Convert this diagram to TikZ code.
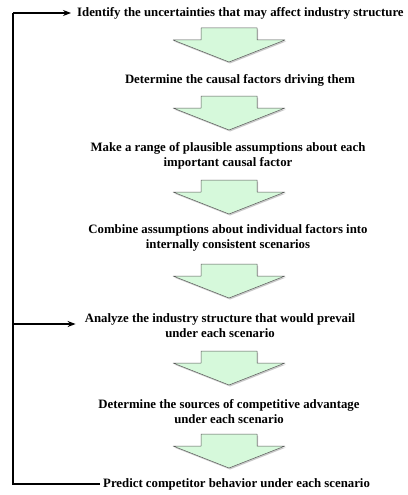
\documentclass[tikz,border=0pt]{standalone}
\usepackage{fontspec}
\setmainfont{Liberation Serif}
\usetikzlibrary{shadows,arrows.meta}
\definecolor{mint}{RGB}{214,249,219}
\definecolor{edgegray}{RGB}{90,90,90}
\tikzset{
  steptext/.style={font=\fontsize{12.8}{14.8}\selectfont\bfseries, align=center, inner sep=0pt},
  fatarrow/.pic={
    \draw[fill=mint, draw=edgegray, line width=0.5pt, line join=round,
          drop shadow={shadow xshift=1pt, shadow yshift=-1.5pt, opacity=0.35, fill=black!60}]
      (-28,0) -- (28,0) -- (28,12) -- (56,12) -- (0,34) -- (-56,12) -- (-28,12) -- cycle;
  },
  feedback/.style={line width=1.1pt, draw=black},
  tipped/.style={feedback, -{Stealth[length=8pt,width=6pt]}}
}
\begin{document}
\begin{tikzpicture}[x=1pt,y=-1pt]
\useasboundingbox (0,0) rectangle (407,495);
% step texts
\node[steptext, anchor=west] (s1) at (77,13) {Identify the uncertainties that may affect industry structure};
\node[steptext] (s2) at (240,80) {Determine the causal factors driving them};
\node[steptext] (s3) at (228,155.5) {Make a range of plausible assumptions about each\\important causal factor};
\node[steptext] (s4) at (228,238) {Combine assumptions about individual factors into\\internally consistent scenarios};
\node[steptext] (s5) at (220,325.5) {Analyze the industry structure that would prevail\\under each scenario};
\node[steptext] (s6) at (229,411.5) {Determine the sources of competitive advantage\\under each scenario};
\node[steptext, anchor=west] (s7) at (103,484) {Predict competitor behavior under each scenario};
% block arrows
\pic at (229,28) {fatarrow};
\pic at (229,96) {fatarrow};
\pic at (229,180) {fatarrow};
\pic at (229,264) {fatarrow};
\pic at (229,351) {fatarrow};
\pic at (229,434) {fatarrow};
% feedback loop
\coordinate (top) at (13,13);
\coordinate (bot) at (13,484);
\coordinate (mid) at (13,324);
\draw[feedback] ([xshift=-3pt]s7.west) -- (bot) -- (top);
\draw[tipped] (top) -- ([xshift=-6pt]s1.west);
\draw[tipped] (mid) -- ([xshift=-9pt]s5.west |- mid);
\end{tikzpicture}
\end{document}
